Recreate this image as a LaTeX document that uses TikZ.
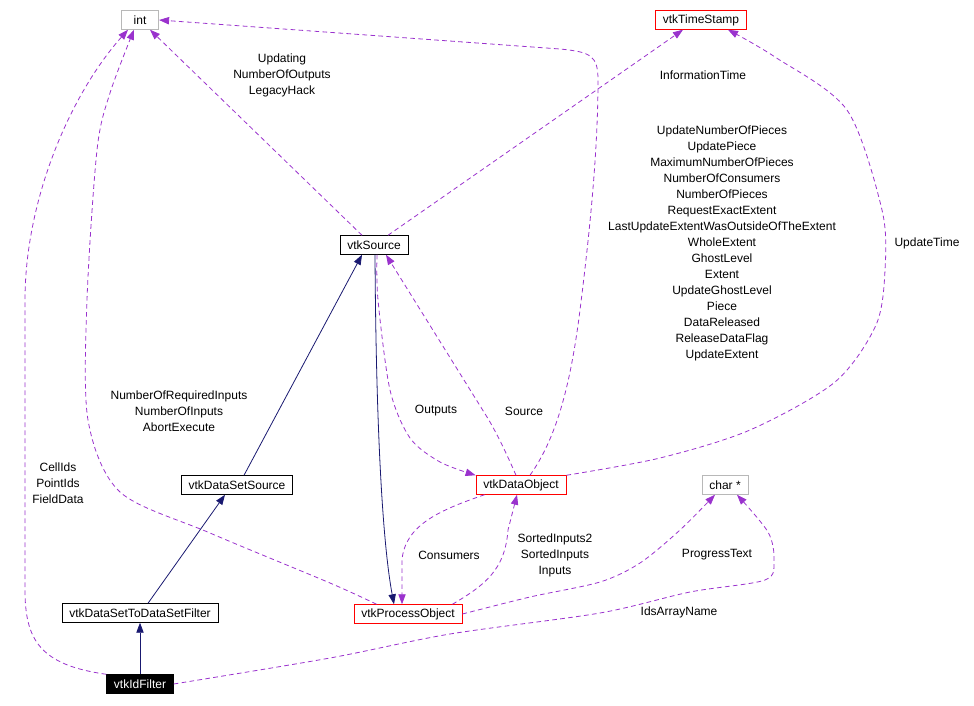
\documentclass[tikz,border=0pt]{standalone}
\usepackage{fontspec}
\setmainfont{Liberation Sans}
\usetikzlibrary{arrows.meta,calc}
\definecolor{usepurple}{HTML}{9A32CD}
\definecolor{inhnavy}{HTML}{191970}
\begin{document}
\begin{tikzpicture}[x=0.75pt,y=-0.75pt,
cls/.style={draw=black,fill=white,line width=0.6pt,inner xsep=5.5pt,inner ysep=0pt,minimum height=14pt,minimum width=28pt,font=\fontsize{9}{12}\selectfont,text=black},
undoc/.style={cls,draw=red},
builtin/.style={cls,draw=black!28},
self/.style={cls,fill=black,text=white},
inherit/.style={draw=inhnavy,line width=0.6pt,-{Triangle[length=7.5pt,width=5.5pt,fill=inhnavy]}},
uses/.style={draw=usepurple,line width=0.6pt,dash pattern=on 3.5pt off 2.5pt,-{Triangle[length=7.5pt,width=5.5pt,fill=usepurple]}},
lbl/.style={align=center,inner sep=0pt,font=\fontsize{9}{12}\selectfont,text=black}
]
\useasboundingbox (0,0) rectangle (974,706);
\node[builtin] (int) at (140,20) {int};
\node[undoc] (stamp) at (701,20) {vtkTimeStamp};
\node[cls] (source) at (374,245) {vtkSource};
\node[cls] (dssource) at (237,485) {vtkDataSetSource};
\node[undoc] (dataobj) at (521,485) {vtkDataObject};
\node[builtin] (charp) at (725,485) {char *};
\node[cls] (dsfilter) at (140,613) {vtkDataSetToDataSetFilter};
\node[undoc] (procobj) at (408,614) {vtkProcessObject};
\node[self] (idfilter) at (140,684) {vtkIdFilter};
\draw[inherit] (idfilter) -- (dsfilter);
\draw[inherit] ($(dsfilter.north)+(8,0)$) -- ($(dssource.south)+(-12,0)$);
\draw[inherit] ($(dssource.north)+(7,0)$) -- ($(source.south)+(-12,0)$);
\draw[inherit] ($(source.south)+(1,0)$) .. controls (376,420) and (382,540) .. ($(procobj.north)+(-14,0)$);
\draw[uses] (idfilter.north west) .. controls (40,665) and (25,640) .. (25,590) -- (25,300) .. controls (25,200) and (70,95) .. ($(int.south)+(-12,0)$);
\draw[uses] ($(procobj.north west)+(23,0)$) plot[smooth] coordinates {($(procobj.north west)+(23,0)$) (330,583) (210,533) (120,492) (88,420) (87,300) (97,150) (110,93) ($(int.south)+(-6,0)$)};
\draw[uses] ($(source.north)+(-12,0)$) -- ($(int.south)+(10,0)$);
\draw[uses] ($(dataobj.north)+(9,0)$) .. controls (555,440) and (570,390) .. (580,310) .. controls (590,230) and (598,150) .. (598,80) .. controls (598,55) and (590,52) .. (560,49) -- (int.east);
\draw[uses] (dataobj.north east) plot[smooth] coordinates {(dataobj.north east) (660,458) (750,430) (835,382) (876,325) (885,270) (882,210) (847,110) (775,57) ($(stamp.south)+(27,0)$)};
\draw[uses] ($(source.north)+(14,0)$) -- ($(stamp.south)+(-18,0)$);
\draw[uses] ($(source.south)+(3,0)$) plot[smooth] coordinates {($(source.south)+(3,0)$) (378,300) (390,390) (410,438) (440,462) (dataobj.north west)};
\draw[uses] ($(dataobj.north)+(-5,0)$) .. controls (505,450) and (495,430) .. (487,417) -- ($(source.south)+(12,0)$);
\draw[uses] ($(dataobj.south west)+(9,0)$) .. controls (440,510) and (405,525) .. (402,560) -- ($(procobj.north)+(-6,0)$);
\draw[uses] ($(procobj.north east)+(-10,0)$) .. controls (485,585) and (505,570) .. (508,530) -- ($(dataobj.south)+(-4,0)$);
\draw[uses] (procobj.east) plot[smooth] coordinates {(procobj.east) (530,597) (600,582) (640,563) (680,530) ($(charp.south)+(-10,0)$)};
\draw[uses] (idfilter.east) plot[smooth] coordinates {(idfilter.east) (330,658) (450,634) (600,613) (690,592) (765,580) (774,560) (768,532) ($(charp.south)+(12,0)$)};
\node[lbl] (lupdating) at (282,75) {Updating\\NumberOfOutputs\\LegacyHack};
\node[lbl] (linfotime) at (703,75) {InformationTime};
\node[lbl] (lpieces) at (722,243) {UpdateNumberOfPieces\\UpdatePiece\\MaximumNumberOfPieces\\NumberOfConsumers\\NumberOfPieces\\RequestExactExtent\\LastUpdateExtentWasOutsideOfTheExtent\\WholeExtent\\GhostLevel\\Extent\\UpdateGhostLevel\\Piece\\DataReleased\\ReleaseDataFlag\\UpdateExtent};
\node[lbl] (lupdtime) at (927,243) {UpdateTime};
\node[lbl] (linputs) at (179,411) {NumberOfRequiredInputs\\NumberOfInputs\\AbortExecute};
\node[lbl] (lcellids) at (58,483) {CellIds\\PointIds\\FieldData};
\node[lbl] (loutputs) at (436,411) {Outputs};
\node[lbl] (lsource) at (524,411) {Source};
\node[lbl] (lconsumers) at (449,555) {Consumers};
\node[lbl] (lsorted) at (555,555) {SortedInputs2\\SortedInputs\\Inputs};
\node[lbl] (lprogress) at (717,555) {ProgressText};
\node[lbl] (lidsarray) at (679,612) {IdsArrayName};
\end{tikzpicture}
\end{document}
